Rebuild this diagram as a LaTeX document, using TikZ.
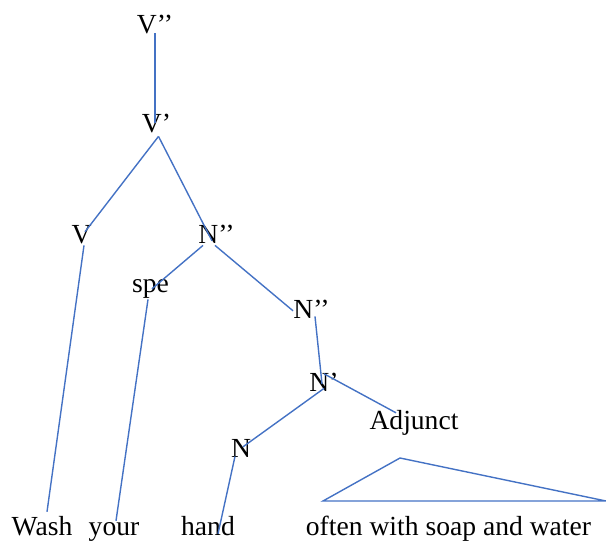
\documentclass[tikz,border=0pt]{standalone}
\usepackage{fontspec}
\setmainfont{Liberation Serif}
\usepackage{xcolor}
\usepackage{tikz}
\definecolor{treeBlue}{HTML}{4472C4}

\begin{document}
\begin{tikzpicture}[
  x=1pt, y=-1pt,
  font=\fontsize{27.6}{32}\selectfont,
  cat/.style={inner sep=0pt, anchor=base, text height=0.7em, text depth=0.22em},
  word/.style={cat},
  branch/.style={draw=treeBlue, line width=1.4pt},
]
\useasboundingbox (0,0) rectangle (606,541);

\node[cat] (vbar2) at (155,33) {V’’};
\node[cat] (vbar1) at (156.5,132) {V’};
\node[cat] (verb) at (81.5,243) {V};
\node[cat] (nbar2) at (216.5,243) {N’’};
\node[cat] (spec) at (150.5,292) {spe};
\node[cat] (nbar2b) at (311.5,318) {N’’};
\node[cat] (nbar1) at (324,391) {N’};
\node[cat] (adjunct) at (414,429) {Adjunct};
\node[cat] (noun) at (241,457) {N};

\node[word] (wash) at (42,535) {Wash};
\node[word] (your) at (114,535) {your};
\node[word] (hand) at (208,535) {hand};
\node[word] (phrase) at (448.5,535) {often with soap and water};

\coordinate (tri-top) at (400,458);
\coordinate (tri-left) at (323,501);
\coordinate (tri-right) at (606,501);

\draw[branch] (vbar2.base) -- ([yshift=2pt]vbar2.base |- vbar1.north);
\draw[branch] ([xshift=2pt,yshift=-2pt]vbar1.south) -- ([xshift=3.5pt,yshift=4pt]verb.north);
\draw[branch] ([xshift=2pt,yshift=-2pt]vbar1.south) -- ([xshift=-4.5pt,yshift=-5pt]nbar2.north);
\draw[branch] ([xshift=2.5pt]verb.south) -- ([xshift=5pt,yshift=16pt]wash.north);
\draw[branch] ([xshift=-13.5pt]nbar2.south) -- ([xshift=1.5pt,yshift=-4pt]spec.north);
\draw[branch] ([xshift=-2.5pt,yshift=-5pt]spec.south) -- ([xshift=2pt,yshift=7pt]your.north);
\draw[branch] ([xshift=-1.5pt]nbar2.south) -- ([xshift=-18.5pt]nbar2b.north);
\draw[branch] ([xshift=3.5pt,yshift=4pt]nbar2b.south) -- ([xshift=-2pt]nbar1.north);
\draw[branch] ([yshift=10pt]nbar1.north) -- ([xshift=-18pt,yshift=9pt]adjunct.north);
\draw[branch] ([yshift=5pt]nbar1.south) -- ([xshift=2pt,yshift=3pt]noun.north);
\draw[branch] ([xshift=-6pt,yshift=3pt]noun.south) -- ([xshift=10pt,yshift=-6pt]hand.north);
\draw[branch] (tri-top) -- (tri-right) -- (tri-left) -- cycle;
\end{tikzpicture}
\end{document}
